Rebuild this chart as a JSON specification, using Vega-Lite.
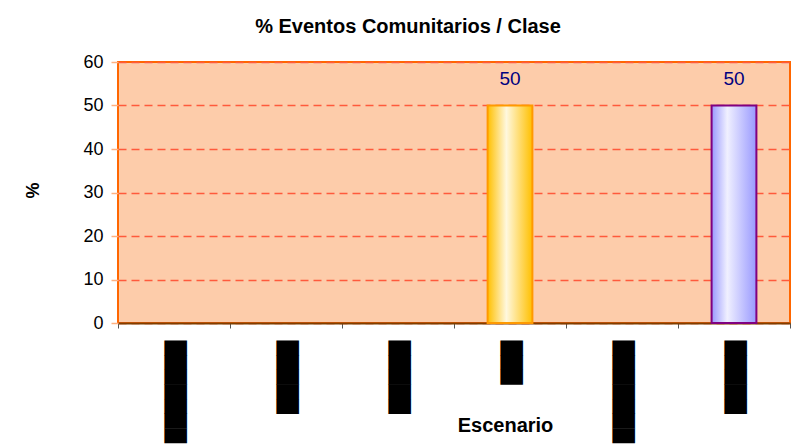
{
  "$schema": "https://vega.github.io/schema/vega-lite/v6.json",
  "width": 672,
  "height": 261,
  "autosize": {"type": "none"},
  "padding": {"left": 118, "top": 62, "right": 7, "bottom": 123},
  "background": "white",
  "config": {
    "font": "Liberation Sans",
    "view": {"stroke": "#FF6600", "strokeWidth": 2, "fill": "#FDCCAA"}
  },
  "title": {
    "text": "% Eventos Comunitarios / Clase",
    "font": "Liberation Sans",
    "fontSize": 20,
    "fontWeight": "bold",
    "color": "black",
    "anchor": "middle",
    "frame": "group",
    "dx": -46,
    "offset": 16
  },
  "data": {
    "values": [
      {"escenario": "Escenario 1", "pct": 0},
      {"escenario": "Escenario 2", "pct": 0},
      {"escenario": "Escenario 3", "pct": 0},
      {"escenario": "Escenario 4", "pct": 50},
      {"escenario": "Escenario 5", "pct": 0},
      {"escenario": "Escenario 6", "pct": 50}
    ]
  },
  "encoding": {
    "x": {
      "field": "escenario",
      "type": "nominal",
      "sort": null,
      "scale": {
        "domain": ["Escenario 1", "Escenario 2", "Escenario 3", "Escenario 4", "Escenario 5", "Escenario 6"],
        "paddingInner": 0,
        "paddingOuter": 0
      },
      "axis": {
        "title": "Escenario",
        "titleFont": "Liberation Sans",
        "titleFontSize": 20,
        "titleFontWeight": "bold",
        "titleColor": "black",
        "titleX": 387,
        "titleY": 108,
        "titleAlign": "center",
        "titleBaseline": "alphabetic",
        "labelAngle": 90,
        "labelAlign": "left",
        "labelBaseline": "middle",
        "labelFont": "DejaVu Sans",
        "labelFontSize": 19,
        "labelColor": "black",
        "labelPadding": 12,
        "labelOverlap": false,
        "labelBound": false,
        "labelLimit": 400,
        "labelExpr": "datum.value == 'Escenario 1' ? '███████' : datum.value == 'Escenario 2' ? '█████' : datum.value == 'Escenario 3' ? '█████' : datum.value == 'Escenario 4' ? '███' : datum.value == 'Escenario 5' ? '███████' : datum.value == 'Escenario 6' ? '█████' : ''",
        "tickBand": "extent",
        "tickColor": "#555555",
        "tickSize": 5,
        "domainColor": "#7F3F00",
        "domainWidth": 2,
        "grid": false
      }
    },
    "y": {
      "field": "pct",
      "type": "quantitative",
      "scale": {"domain": [0, 60], "nice": false},
      "axis": {
        "values": [0, 10, 20, 30, 40, 50, 60],
        "title": "%",
        "titleFont": "Liberation Sans",
        "titleFontSize": 18,
        "titleFontWeight": "bold",
        "titleColor": "black",
        "titleAngle": -90,
        "titleX": -85,
        "titleY": 128,
        "titleAlign": "center",
        "titleBaseline": "middle",
        "labelFont": "Liberation Sans",
        "labelFontSize": 18,
        "labelColor": "black",
        "labelPadding": 8,
        "tickColor": "#FFB080",
        "tickSize": 7,
        "tickWidth": 1.5,
        "domain": false,
        "grid": true,
        "gridColor": "#FF5A3C",
        "gridDash": [8, 5],
        "gridWidth": 1.5
      }
    }
  },
  "layer": [
    {
      "transform": [{"filter": "datum.pct > 0"}],
      "mark": {"type": "bar", "width": {"band": 0.4}, "strokeWidth": 2},
      "encoding": {
        "fill": {
          "condition": {
            "test": "datum.escenario === 'Escenario 4'",
            "value": {
              "gradient": "linear", "x1": 0, "y1": 0, "x2": 1, "y2": 0,
              "stops": [
                {"offset": 0, "color": "#FFC000"},
                {"offset": 0.42, "color": "#FFF8DE"},
                {"offset": 1, "color": "#FFC000"}
              ]
            }
          },
          "value": {
            "gradient": "linear", "x1": 0, "y1": 0, "x2": 1, "y2": 0,
            "stops": [
              {"offset": 0, "color": "#9999FF"},
              {"offset": 0.35, "color": "#F0F0FF"},
              {"offset": 1, "color": "#9999FF"}
            ]
          }
        },
        "stroke": {
          "condition": {"test": "datum.escenario === 'Escenario 4'", "value": "#FF9900"},
          "value": "#800080"
        }
      }
    },
    {
      "transform": [{"filter": "datum.pct > 0"}],
      "mark": {"type": "text", "baseline": "alphabetic", "dy": -21, "font": "Liberation Sans", "fontSize": 19, "color": "#000080"},
      "encoding": {
        "text": {"field": "pct", "type": "quantitative"}
      }
    }
  ]
}
